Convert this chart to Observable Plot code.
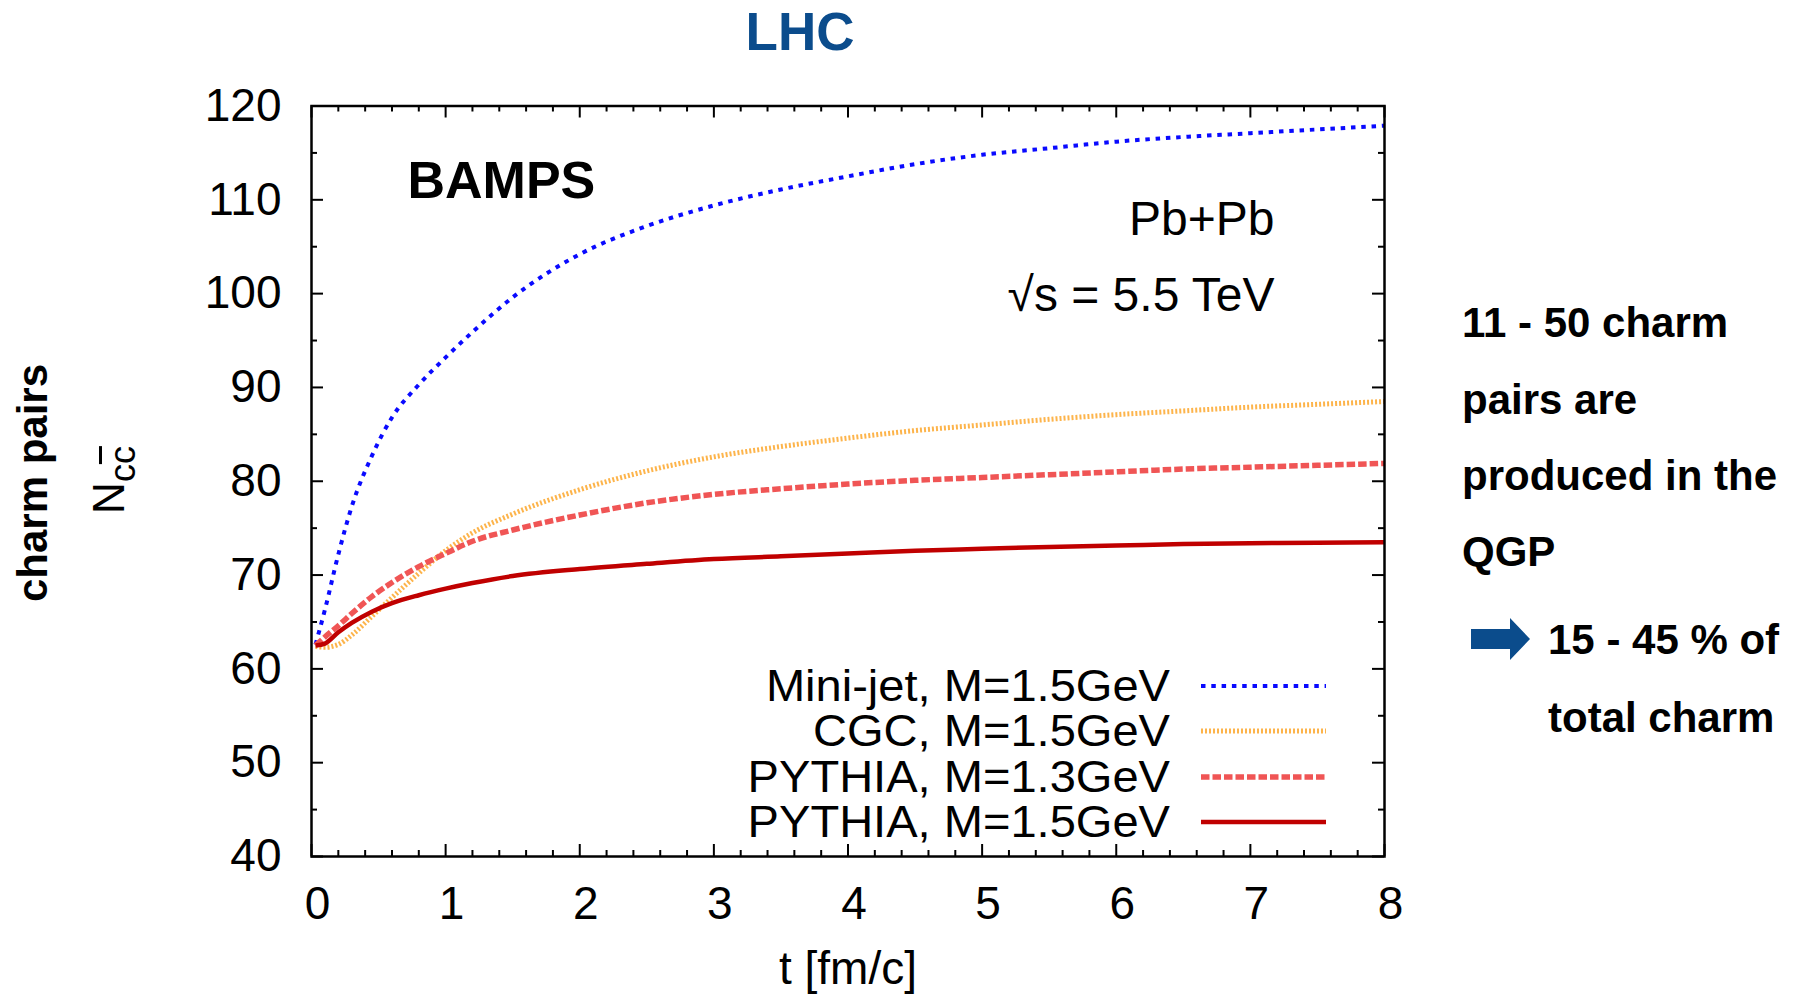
<!DOCTYPE html>
<html>
<head>
<meta charset="utf-8">
<script src="https://cdn.jsdelivr.net/npm/d3@7"></script>
<script src="https://cdn.jsdelivr.net/npm/@observablehq/plot@0.6"></script>
<style>
  body { margin: 0; background: #fff; }
  #wrap { position: relative; width: 1799px; height: 994px; overflow: hidden;
          font-family: "Liberation Sans", Arial, Helvetica, sans-serif; color: #000; }
  #wrap > svg { position: absolute; left: 0; top: 0; }
  .ov { position: absolute; white-space: nowrap; line-height: 1; }
  .note { font-weight: bold; font-size: 42px; transform: translateY(-50%); }
</style>
</head>
<body>
<div id="wrap"></div>
<script>
// Time axis samples [fm/c]
const times = [0.03, 0.1, 0.2, 0.3, 0.45, 0.6, 0.8, 1.0, 1.2, 1.5, 2.0, 2.5, 3.0, 3.5, 4.0, 4.5, 5.0, 5.5, 6.0, 6.5, 7.0, 7.5, 8.0];

// Number of charm pairs N_ccbar for each initial condition
const miniJet  = [62.6, 66.3, 72.2, 77.3, 82.7, 86.8, 90.3, 93.2, 95.9, 99.6, 104.2, 107.2, 109.4, 111.1, 112.5, 113.8, 114.8, 115.5, 116.2, 116.7, 117.1, 117.5, 117.9];
const cgc      = [62.4, 62.3, 62.6, 63.6, 65.6, 67.6, 70.2, 72.6, 74.5, 76.5, 79.1, 81.1, 82.6, 83.7, 84.6, 85.4, 86.0, 86.6, 87.1, 87.5, 87.9, 88.2, 88.5];
const pythia13 = [62.5, 63.4, 64.6, 65.9, 67.7, 69.2, 70.9, 72.3, 73.6, 74.8, 76.4, 77.7, 78.6, 79.2, 79.7, 80.1, 80.4, 80.7, 81.0, 81.3, 81.5, 81.7, 81.9];
const pythia15 = [62.5, 62.7, 63.9, 64.9, 66.1, 67.0, 67.85, 68.55, 69.15, 69.9, 70.65, 71.2, 71.7, 72.0, 72.3, 72.6, 72.8, 73.0, 73.15, 73.3, 73.4, 73.45, 73.5];

const seriesNames = ["Mini-jet, M=1.5GeV", "CGC, M=1.5GeV", "PYTHIA, M=1.3GeV", "PYTHIA, M=1.5GeV"];
const seriesValues = [miniJet, cgc, pythia13, pythia15];

// Tick values
const xTicks = [0, 1, 2, 3, 4, 5, 6, 7, 8];
const yTicks = [40, 50, 60, 70, 80, 90, 100, 110, 120];

// Line styles, one per series
const lineStyles = [
  { stroke: "#0a0aff", strokeWidth: 4,   strokeDasharray: "4.5,5.8" },
  { stroke: "#fdb44b", strokeWidth: 5,   strokeDasharray: "2,2" },
  { stroke: "#f05555", strokeWidth: 5.5, strokeDasharray: "8.5,3" },
  { stroke: "#c00000", strokeWidth: 4.5, strokeDasharray: null }
];

const W = 1799, H = 994;
const ml = 311, mr = W - 1384, mt = 105.5, mb = H - 856;
const fh = H - mt - mb, fw = W - ml - mr;
const font = "Liberation Sans, Arial, Helvetica, sans-serif";

const xMinor = d3.range(0, 8.0001, 0.2).filter(v => Math.abs(v - Math.round(v)) > 1e-6);
const yMinor = d3.range(45, 120, 10);

const tables = seriesNames.map((name, k) =>
  times.map((t, i) => ({ t, n: seriesValues[k][i], name })));

const tickStyle = { stroke: "#000", strokeWidth: 2 };

const chart = Plot.plot({
  width: W,
  height: H,
  marginLeft: ml, marginRight: mr, marginTop: mt, marginBottom: mb,
  x: { domain: [0, 8] },
  y: { domain: [40, 120] },
  style: { fontFamily: font, fontSize: "46px", color: "#000", background: "transparent", overflow: "visible" },
  marks: [
    // inward ticks on all four sides
    Plot.tickX(xTicks, { x: d => d, insetTop: fh - 12, ...tickStyle }),
    Plot.tickX(xTicks, { x: d => d, insetBottom: fh - 12, ...tickStyle }),
    Plot.tickX(xMinor, { x: d => d, insetTop: fh - 6, ...tickStyle }),
    Plot.tickX(xMinor, { x: d => d, insetBottom: fh - 6, ...tickStyle }),
    Plot.tickY(yTicks, { y: d => d, insetRight: fw - 12, ...tickStyle }),
    Plot.tickY(yTicks, { y: d => d, insetLeft: fw - 12, ...tickStyle }),
    Plot.tickY(yMinor, { y: d => d, insetRight: fw - 6, ...tickStyle }),
    Plot.tickY(yMinor, { y: d => d, insetLeft: fw - 6, ...tickStyle }),
    // tick labels
    Plot.axisX(xTicks, { anchor: "bottom", tickSize: 0, tickPadding: 30, dx: 6, label: null, fontSize: 46, tickFormat: d => String(d) }),
    Plot.axisY(yTicks, { anchor: "left", tickSize: 0, tickPadding: 30, label: null, fontSize: 46, tickFormat: d => String(d) }),
    // curves
    ...tables.map((rows, k) => Plot.line(rows, {
      x: "t", y: "n", curve: "monotone-x",
      stroke: lineStyles[k].stroke,
      strokeWidth: lineStyles[k].strokeWidth,
      strokeDasharray: lineStyles[k].strokeDasharray,
      strokeLinecap: "butt"
    })),
    // in-frame annotations
    Plot.text(["BAMPS"], { text: d => d, frameAnchor: "top-left", dx: 96, dy: 75, textAnchor: "start", lineAnchor: "middle", fontSize: 52, fontWeight: "bold" }),
    Plot.text(["Pb+Pb"], { text: d => d, frameAnchor: "top-right", dx: -110, dy: 114, textAnchor: "end", lineAnchor: "middle", fontSize: 48 }),
    Plot.text(["\u221As = 5.5 TeV"], { text: d => d, frameAnchor: "top-right", dx: -110, dy: 190, textAnchor: "end", lineAnchor: "middle", fontSize: 48 }),
    Plot.text(["t [fm/c]"], { text: d => d, frameAnchor: "bottom", dx: 0, dy: 113, lineAnchor: "middle", fontSize: 46 }),
    Plot.frame({ stroke: "#000", strokeWidth: 2.5 })
  ]
});

const wrap = document.getElementById("wrap");
wrap.appendChild(chart);

// Key in the lower right of the frame
const svg = d3.select(chart);
const legendRowY = [686, 731, 777, 822];
const key = svg.append("g").attr("font-family", font).attr("font-size", 44);
seriesNames.forEach((name, k) => {
  const y = legendRowY[k];
  key.append("text")
    .attr("transform", `translate(1170,${y}) scale(1.07,1)`)
    .attr("text-anchor", "end").attr("dominant-baseline", "central")
    .attr("fill", "#000")
    .text(name);
  const st = lineStyles[k];
  key.append("line")
    .attr("x1", 1201).attr("x2", 1326).attr("y1", y).attr("y2", y)
    .attr("stroke", st.stroke).attr("stroke-width", st.strokeWidth)
    .attr("stroke-dasharray", st.strokeDasharray);
});

// Title
const title = document.createElement("div");
title.className = "ov";
title.style.cssText = "left:800px;top:31px;transform:translate(-50%,-50%);font-size:53px;font-weight:bold;color:#0b4c8c;";
title.textContent = "LHC";
wrap.appendChild(title);

// Y axis labels
const yLab = document.createElement("div");
yLab.className = "ov";
yLab.style.cssText = "left:33px;top:483px;transform:translate(-50%,-50%) rotate(-90deg);font-size:42px;font-weight:bold;";
yLab.textContent = "charm pairs";
wrap.appendChild(yLab);

const nLab = document.createElement("div");
nLab.className = "ov";
nLab.style.cssText = "left:114px;top:480px;transform:translate(-50%,-50%) rotate(-90deg);font-size:44px;";
nLab.innerHTML = 'N<sub style="font-size:36px;vertical-align:-11px;">c<span style="text-decoration:overline;">c</span></sub>';
wrap.appendChild(nLab);

// Side notes
const notes = [
  ["11 - 50 charm", 1462, 323],
  ["pairs are", 1462, 400],
  ["produced in the", 1462, 476],
  ["QGP", 1462, 552],
  ["15 - 45 % of", 1548, 640],
  ["total charm", 1548, 718]
];
notes.forEach(([txt, x, y]) => {
  const d = document.createElement("div");
  d.className = "ov note";
  d.style.left = x + "px";
  d.style.top = y + "px";
  d.textContent = txt;
  wrap.appendChild(d);
});

// Arrow pointing at the percentage line
const arrow = d3.select(wrap).append("svg")
  .attr("width", 70).attr("height", 50)
  .style("position", "absolute").style("left", "1468px").style("top", "615px");
arrow.append("path")
  .attr("d", "M3,14 H42 V3 L62,24 L42,45 V34 H3 Z")
  .attr("fill", "#0b4c8c");
</script>
</body>
</html>
